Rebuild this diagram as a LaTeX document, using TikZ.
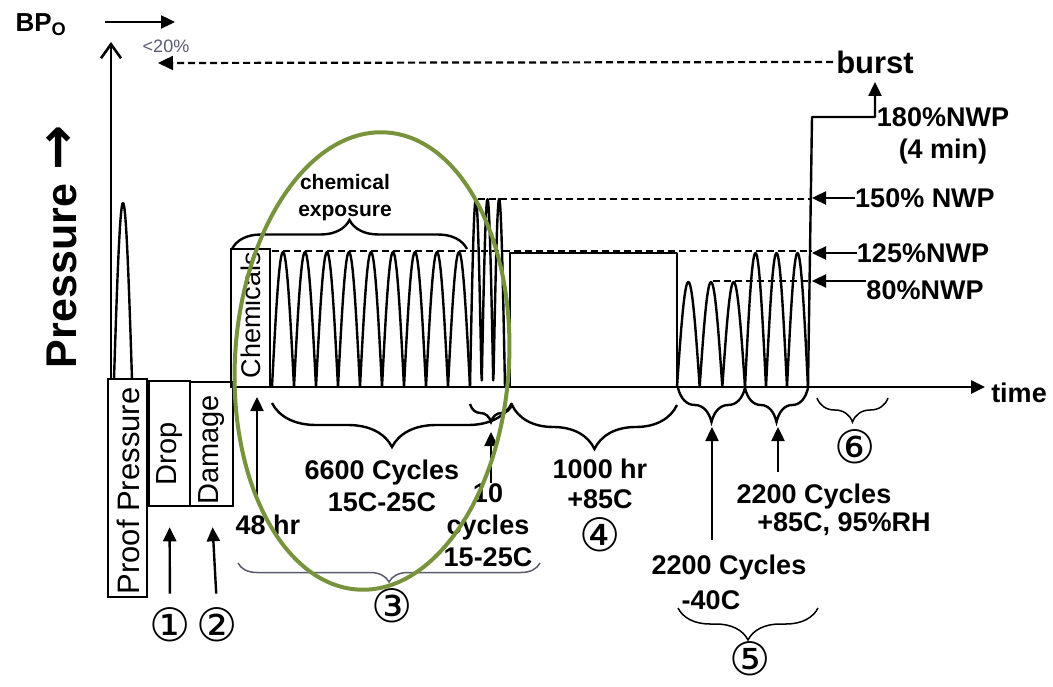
\documentclass[tikz,border=0pt]{standalone}
\usepackage{fontspec}
\setmainfont{Liberation Sans}
\newfontfamily\symfont{DejaVu Sans}
\usetikzlibrary{arrows.meta,calc,decorations.pathreplacing}
\definecolor{Ink}{HTML}{000000}
\definecolor{Olive}{HTML}{77933C}
\definecolor{Slate}{HTML}{5A5A6E}
\tikzset{
  box/.style={draw=Ink, line width=2.6pt, inner sep=0pt},
  boxtext/.style={rotate=90, inner sep=0pt, font=\fontsize{29}{30}\selectfont},
  lbl/.style={inner sep=0pt, align=center, font=\bfseries\fontsize{27}{32}\selectfont},
  circnum/.style={inner sep=0pt, font=\symfont\fontsize{46}{48}\selectfont},
  arr/.style={-{Triangle[length=14pt,width=13pt]}, line width=2.4pt, draw=Ink},
  openarr/.style={-{Straight Barb[length=14pt,width=20pt]}, line width=2.6pt},
  wave/.style={line width=2.4pt, line join=round},
  dline/.style={line width=2.2pt, dash pattern=on 7pt off 4pt},
  brc/.style={decorate, decoration={brace, mirror, amplitude=#1}, line width=2.4pt},
  upbrc/.style={decorate, decoration={brace, amplitude=#1}, line width=2.4pt},
  thinbrc/.style={brc=#1, line width=1.5pt}
}

\begin{document}
\begin{tikzpicture}[x=1pt,y=-1pt]
        \useasboundingbox (0,0) rectangle (1053,687);
        \coordinate (yfoot) at (111,379);
        \coordinate (ytop) at (111,42);
        \coordinate (tfoot) at (233,387);
        \coordinate (ttip) at (985,387);
        \draw[openarr] (yfoot) -- (ytop);
        \draw[arr,line width=2.6pt] (tfoot) -- (ttip);
        \node[lbl] (time) at (1019,393) {time};
        \node[rotate=90,inner sep=0pt,font=\bfseries\fontsize{43}{44}\selectfont] (ylabel) at (62,276) {Pressure};
        \node[rotate=90,inner sep=0pt,font=\symfont\bfseries\fontsize{54}{54}\selectfont] (yarrow) at (61,148) {→};

        \node[inner sep=0pt,font=\bfseries\fontsize{26}{26}\selectfont] (bpo) at (41,25) {BP\textsubscript{O}};
        \coordinate (bpotail) at (105,22);
        \coordinate (bpotip) at (175,22);
        \draw[arr] (bpotail) -- (bpotip);
        \node[inner sep=0pt,text=Slate,font=\fontsize{18}{20}\selectfont] (lt20) at (166,46) {<20\%};
        \node[inner sep=0pt,font=\bfseries\fontsize{31}{32}\selectfont] (burst) at (875,62) {burst};
        \coordinate (bpmax) at (158,63);
        \draw[dline,-{Triangle[length=15pt,width=14pt]}] ([xshift=-3pt]burst.west) -- (bpmax);

        \node[box,minimum width=39pt,minimum height=218pt] (proof) at (127.5,488) {};
        \node[boxtext,font=\fontsize{31}{32}\selectfont] (prooftxt) at (128,491) {Proof Pressure};
        \node[box,minimum width=41pt,minimum height=125pt] (drop) at (169.5,443.5) {};
        \node[boxtext] (droptxt) at (170,454) {Drop};
        \node[box,minimum width=43pt,minimum height=124pt] (damage) at (211.5,444) {};
        \node[boxtext] (damagetxt) at (212,450) {Damage};
        \node[box,minimum width=39pt,minimum height=138pt] (chem) at (250.5,318) {};
        \node[boxtext,font=\fontsize{27}{28}\selectfont] (chemtxt) at (251,315) {Chemicals};

        \draw[wave] plot[domain=114:132,samples=40] (\x,{379-176*sin(10*(\x-114))});
        \draw[wave] plot[domain=272:470,samples=217] (\x,{387-135*abs(sin(8.1818*(\x-272)))});
        \draw[wave] plot[domain=470:505,samples=90] (\x,{387-188*abs(sin(15.4286*(\x-470)))});
        \draw[wave] (510,387) |- (677,253) -- (677,387);
        \draw[wave] plot[domain=677:745,samples=100] (\x,{387-105*abs(sin(7.9412*(\x-677)))});
        \draw[wave] plot[domain=745:808,samples=100] (\x,{387-134*abs(sin(8.5714*(\x-745)))});
        \draw[wave,-{Triangle[length=14pt,width=13pt]}] (808,387) -- (812,117) -- (875,117) -- (875,82);

        \draw[dline] (272,251) -- (812,251);
        \draw[dline] (478,199) -- (812,199);
        \draw[dline] (713,281) -- (812,281);

        \node[lbl] (n180) at (943,136) {180\%NWP\\(4 min)};
        \node[lbl] (n150) at (925,198) {150\% NWP};
        \node[lbl] (n125) at (923,253) {125\%NWP};
        \node[lbl] (n80) at (925,290) {80\%NWP};
        \coordinate (ramp) at (812,387);
        \draw[arr] (n150.west) -- (n150.west -| ramp);
        \draw[arr] (n125.west) -- (n125.west -| ramp);
        \draw[arr] ([yshift=9pt]n80.west) -- ([yshift=9pt]n80.west -| ramp);

        \draw[upbrc=29pt] (232,249) -- (467,249);
        \node[inner sep=0pt,align=center,font=\bfseries\fontsize{21}{27}\selectfont] (chemexp) at (345,198) {chemical\\exposure};

        \draw[brc=44pt] (272,403) -- (512,403);
        \draw[brc=18pt] (470,404) -- (512,404);
        \draw[brc=44pt] (512,405) -- (677,405);
        \draw[brc=34pt] (678,388) -- (745,388);
        \draw[brc=34pt] (745,388) -- (808,388);
        \draw[thinbrc=24pt] (817,398) -- (888,398);
        \draw[thinbrc=32pt] (678,608) -- (818,608);
        \draw[thinbrc=19pt,draw=Slate] (238,563) -- (540,563);

        \node[circnum] (c1) at (170,625) {①};
        \node[circnum] (c2) at (217,625) {②};
        \draw[arr,shorten <=14pt,shorten >=20pt] (c1.north) -- (drop.south);
        \draw[arr,shorten <=14pt,shorten >=20pt] (c2.north) -- (damage.south);

        \node[lbl] (hr48) at (268,525) {48 hr};
        \coordinate (a48) at (257,397);
        \draw[arr,shorten <=20pt] (hr48.north -| a48) -- (a48);

        \node[lbl] (cyc6600) at (382,486) {6600 Cycles\\15C-25C};
        \node[lbl] (cyc10) at (488,525) {10\\cycles\\15-25C};
        \coordinate (b10) at (491,432);
        \draw[arr] (cyc10.north -| b10) -- (b10);
        \node[circnum] (c3) at (392,606) {③};

        \node[lbl,font=\bfseries\fontsize{27}{30}\selectfont] (hr1000) at (600,484) {1000 hr\\+85C};
        \node[circnum] (c4) at (600,535) {④};

        \node[lbl] (cyc85) at (814,497) {2200 Cycles};
        \node[lbl] (rh95) at (844,524) {+85C, 95\%RH};
        \coordinate (b85) at (778,427);
        \draw[arr,shorten <=12pt] (cyc85.north -| b85) -- (b85);
        \node[lbl] (cyc40) at (729,568) {2200 Cycles};
        \node[lbl] (m40) at (711,600) {-40C};
        \coordinate (b40) at (712,427);
        \draw[arr,shorten <=15pt] (cyc40.north -| b40) -- (b40);
        \node[circnum] (c5) at (750,659) {⑤};
        \node[circnum] (c6) at (855,447) {⑥};

        \draw[Olive,line width=4pt,rotate around={-3.5:(372,361)}] (372,361) ellipse [x radius=137,y radius=229];
      \end{tikzpicture}
\end{document}
